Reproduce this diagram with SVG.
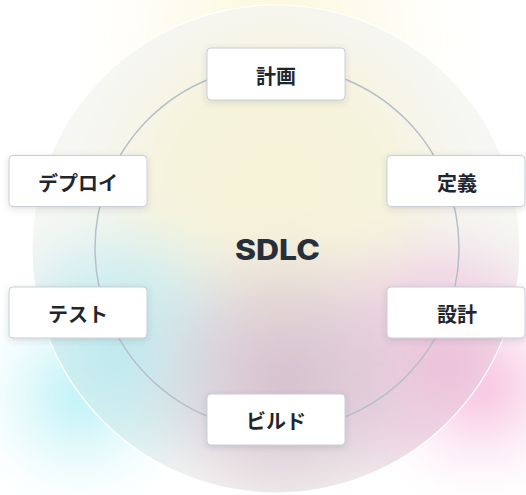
<svg xmlns="http://www.w3.org/2000/svg" width="526" height="495" viewBox="0 0 526 495">
  <style>
    .node rect { fill: #ffffff; stroke: #c9ced6; stroke-width: 1; filter: url(#shadow); }
    .node text { font-family: "Noto Sans CJK JP", "Liberation Sans", sans-serif; font-weight: 700; font-size: 20px; fill: #1f262e; text-anchor: middle; dominant-baseline: central; }
    .title { font-family: Inter, "Liberation Sans", sans-serif; font-weight: 800; font-size: 28px; fill: #27303a; text-anchor: middle; }
    .ring { fill: none; stroke: #b6bfc9; stroke-width: 1.5; }
  </style>
  <defs>
    <filter id="shadow" x="-20%" y="-30%" width="140%" height="170%">
      <feDropShadow dx="0" dy="2" stdDeviation="3" flood-color="#3a4150" flood-opacity="0.16"/>
    </filter>
    <filter id="soft" x="-50%" y="-50%" width="200%" height="200%">
      <feGaussianBlur stdDeviation="18"/>
    </filter>
    <clipPath id="disc"><circle cx="276" cy="249" r="244"/></clipPath>
    <radialGradient id="oYellow" cx="276" cy="40" r="200" gradientUnits="userSpaceOnUse">
      <stop offset="0" stop-color="#fbf6d2" stop-opacity="1"/>
      <stop offset="1" stop-color="#fdfbec" stop-opacity="0"/>
    </radialGradient>
    <radialGradient id="oCyan" cx="80" cy="395" r="115" gradientUnits="userSpaceOnUse">
      <stop offset="0" stop-color="#b0eff5" stop-opacity="1"/>
      <stop offset="1" stop-color="#e6fafb" stop-opacity="0"/>
    </radialGradient>
    <radialGradient id="oPink" cx="480" cy="385" r="115" gradientUnits="userSpaceOnUse">
      <stop offset="0" stop-color="#f6b5da" stop-opacity="1"/>
      <stop offset="1" stop-color="#fbe6f2" stop-opacity="0"/>
    </radialGradient>
    <radialGradient id="iYellow" cx="276" cy="190" r="210" gradientUnits="userSpaceOnUse">
      <stop offset="0" stop-color="#f7f3d7" stop-opacity="1"/>
      <stop offset="0.6" stop-color="#f6f2d8" stop-opacity="0.8"/>
      <stop offset="1" stop-color="#f4f4ee" stop-opacity="0"/>
    </radialGradient>
    <radialGradient id="iMauve" cx="285" cy="380" r="160" gradientUnits="userSpaceOnUse">
      <stop offset="0" stop-color="#d3bccb" stop-opacity="1"/>
      <stop offset="0.55" stop-color="#d9c6d2" stop-opacity="0.6"/>
      <stop offset="1" stop-color="#e8dde3" stop-opacity="0"/>
    </radialGradient>
    <radialGradient id="iCyan" cx="120" cy="350" r="150" gradientUnits="userSpaceOnUse">
      <stop offset="0" stop-color="#b8e9ef" stop-opacity="1"/>
      <stop offset="0.6" stop-color="#c9ecf0" stop-opacity="0.7"/>
      <stop offset="1" stop-color="#e2f1f2" stop-opacity="0"/>
    </radialGradient>
    <radialGradient id="iPink" cx="440" cy="365" r="155" gradientUnits="userSpaceOnUse">
      <stop offset="0" stop-color="#ecbbd8" stop-opacity="1"/>
      <stop offset="0.6" stop-color="#eecbe0" stop-opacity="0.7"/>
      <stop offset="1" stop-color="#f2e2ec" stop-opacity="0"/>
    </radialGradient>
  </defs>

  <rect width="526" height="495" fill="#ffffff"/>

  <g id="background">
    <g filter="url(#soft)">
      <ellipse cx="276" cy="40" rx="230" ry="120" fill="url(#oYellow)"/>
      <circle cx="80" cy="395" r="115" fill="url(#oCyan)"/>
      <circle cx="480" cy="385" r="115" fill="url(#oPink)"/>
    </g>
    <g clip-path="url(#disc)">
      <circle cx="276" cy="249" r="244" fill="#f6f7f3"/>
      <g filter="url(#soft)">
        <circle cx="276" cy="190" r="210" fill="url(#iYellow)"/>
        <circle cx="120" cy="350" r="150" fill="url(#iCyan)"/>
        <circle cx="440" cy="365" r="155" fill="url(#iPink)"/>
        <circle cx="285" cy="380" r="160" fill="url(#iMauve)"/>
      </g>
    </g>
    <circle cx="276" cy="249" r="244" fill="none" stroke="#ffffff" stroke-opacity="0.95" stroke-width="1.2"/>
  </g>

  <g id="connectors">
    <circle class="ring" cx="277" cy="248" r="182"/>
  </g>

  <g id="center">
    <text class="title" x="277.5" y="260" textLength="85" lengthAdjust="spacingAndGlyphs">SDLC</text>
  </g>

  <g id="node-plan" class="node">
    <rect x="207" y="48" width="138" height="52" rx="4"/>
    <text x="276" y="75">計画</text>
  </g>
  <g id="node-define" class="node">
    <rect x="387" y="155.5" width="138" height="51" rx="4"/>
    <text x="457" y="182">定義</text>
  </g>
  <g id="node-design" class="node">
    <rect x="387" y="287" width="138" height="51" rx="4"/>
    <text x="457" y="313">設計</text>
  </g>
  <g id="node-build" class="node">
    <rect x="207" y="394" width="138" height="51" rx="4"/>
    <text x="276" y="420">ビルド</text>
  </g>
  <g id="node-test" class="node">
    <rect x="9" y="287" width="138" height="51" rx="4"/>
    <text x="78" y="313">テスト</text>
  </g>
  <g id="node-deploy" class="node">
    <rect x="9" y="155.5" width="138" height="51" rx="4"/>
    <text x="78" y="182">デプロイ</text>
  </g>
</svg>
